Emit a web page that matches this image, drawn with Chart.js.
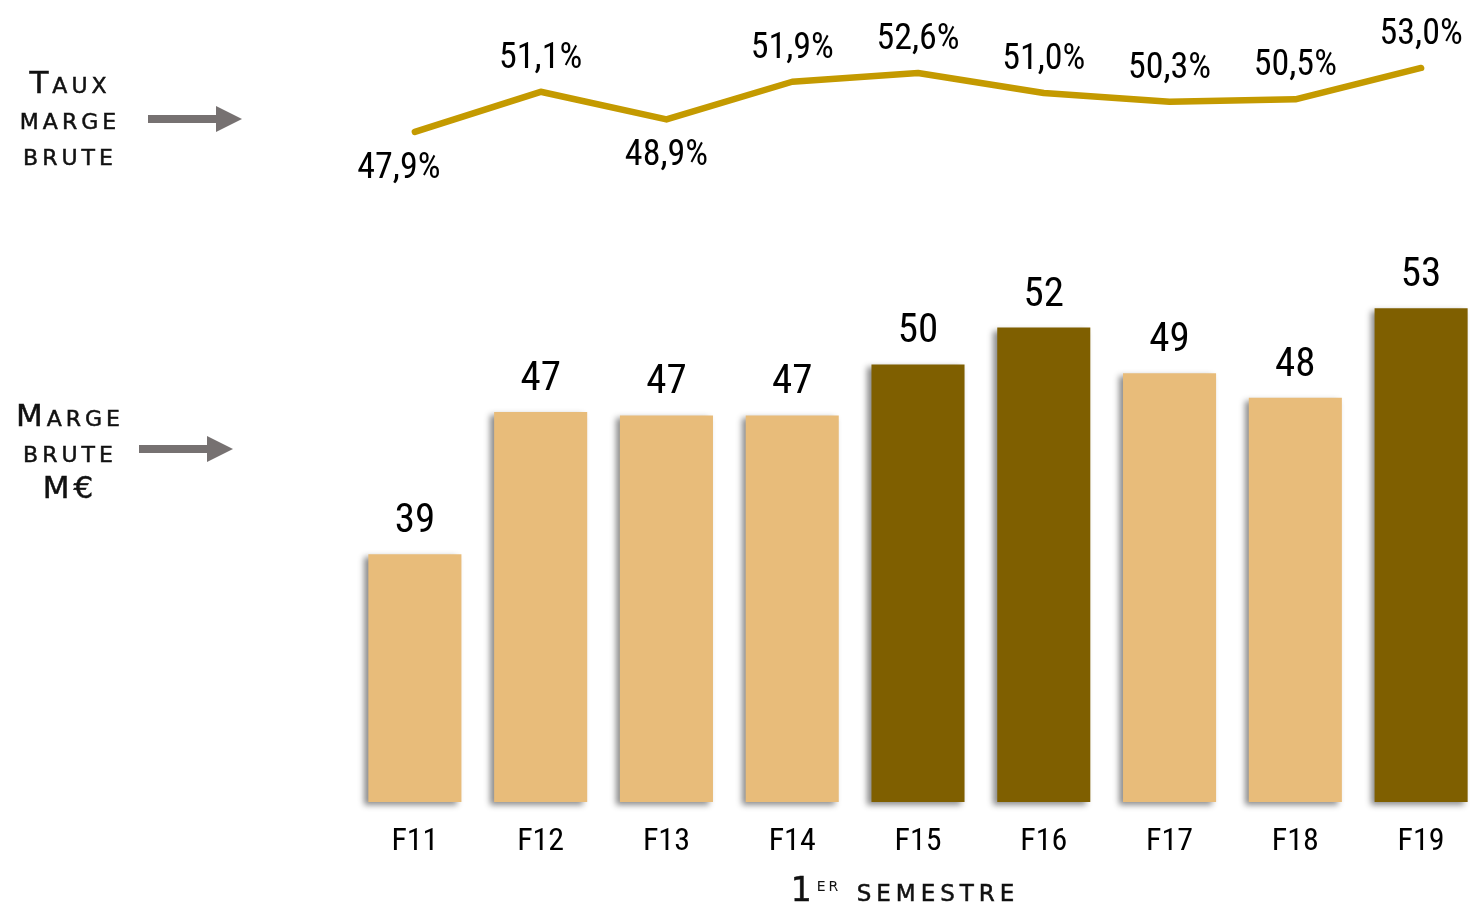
<!DOCTYPE html>
<html lang="fr">
<head>
<meta charset="utf-8">
<title>Marge brute 1er semestre</title>
<script src="https://cdn.jsdelivr.net/npm/chart.js@4.4.1/dist/chart.umd.min.js"></script>
<style>
  html, body { margin: 0; padding: 0; background: #fff; }
  body { width: 1470px; height: 909px; overflow: hidden; position: relative; }
  #wrap { position: absolute; left: 0; top: 0; width: 1490px; height: 909px; }
  .side {
    position: absolute; left: 0; width: 140px; text-align: center;
    font-family: "DejaVu Sans", sans-serif; font-variant: small-caps;
    font-size: 31px; line-height: 36px; letter-spacing: 4px; color: #111;
    -webkit-text-stroke: 0.5px #111;
  }
  .arrow { position: absolute; }
  #xtitle {
    position: absolute; left: 650px; width: 510px; top: 866px; text-align: center;
    font-family: "DejaVu Sans", sans-serif; font-variant: small-caps;
    font-size: 33px; letter-spacing: 5px; color: #111; line-height: 36px;
    -webkit-text-stroke: 0.5px #111;
  }
  #xtitle sup { font-size: 20px; letter-spacing: 3px; vertical-align: 10px; -webkit-text-stroke: 0; }
</style>
</head>
<body>
<div id="wrap"><canvas id="chart"></canvas></div>

<div class="side" style="top: 64px;">Taux<br>marge<br>brute</div>
<svg class="arrow" style="left:148px; top:104px;" width="96" height="30">
  <rect x="0" y="11" width="70" height="8" fill="#767171"/>
  <polygon points="68,2 94,15 68,28" fill="#767171"/>
</svg>

<div class="side" style="top: 397px;">Marge<br>brute<br>M€</div>
<svg class="arrow" style="left:139px; top:434px;" width="96" height="30">
  <rect x="0" y="11" width="70" height="8" fill="#767171"/>
  <polygon points="68,2 94,15 68,28" fill="#767171"/>
</svg>

<div id="xtitle">1<sup>er</sup> semestre</div>

<script>
// semestres
const categories = ['F11', 'F12', 'F13', 'F14', 'F15', 'F16', 'F17', 'F18', 'F19'];
// marge brute en M€ (affichée arrondie)
const margeBrute = [39.1, 47.2, 47.0, 47.0, 49.9, 52.0, 49.4, 48.0, 53.1];
// taux de marge brute en %
const tauxMarge = [47.9, 51.1, 48.9, 51.9, 52.6, 51.0, 50.3, 50.5, 53.0];
// semestres mis en avant (barres foncées)
const highlighted = ['F15', 'F16', 'F19'];
// étiquettes de taux placées sous la courbe
const tauxLabelBelow = ['F11', 'F13'];

const NARROW = '"Liberation Sans Narrow", "Arial Narrow", "Roboto Condensed", "Liberation Sans", sans-serif';
const LIGHT = '#E8BC7A';
const DARK = '#7F5F00';
const GOLD = '#C49A00';
const BASE = 25; // bas visible de l'axe des barres

const fmtPct = v => v.toFixed(1).replace('.', ',') + '%';

// ombre portée sous les barres
const barShadow = {
  id: 'barShadow',
  beforeDatasetDraw(chart, args) {
    if (args.index !== 0) return;
    const c = chart.ctx;
    c.save();
    c.shadowColor = 'rgba(0, 0, 0, 0.45)';
    c.shadowBlur = 6;
    c.shadowOffsetX = -4;
    c.shadowOffsetY = 3;
  },
  afterDatasetDraw(chart, args) {
    if (args.index === 0) chart.ctx.restore();
  }
};

// valeurs au-dessus des barres et de la courbe
const valueLabels = {
  id: 'valueLabels',
  afterDatasetsDraw(chart) {
    const c = chart.ctx;
    c.save();
    c.fillStyle = '#000';
    c.textAlign = 'center';
    c.textBaseline = 'alphabetic';

    c.font = '41px ' + NARROW;
    chart.getDatasetMeta(0).data.forEach((bar, i) => {
      c.fillText(String(Math.round(margeBrute[i])), bar.x, bar.y - 22);
    });

    c.font = '36px ' + NARROW;
    chart.getDatasetMeta(1).data.forEach((pt, i) => {
      const below = tauxLabelBelow.includes(categories[i]);
      const dx = i === 0 ? -16 : 0;
      c.fillText(fmtPct(tauxMarge[i]), pt.x + dx, below ? pt.y + 46 : pt.y - 24);
    });
    c.restore();
  }
};

new Chart(document.getElementById('chart'), {
  data: {
    labels: categories,
    datasets: [
      {
        type: 'bar',
        label: 'Marge brute M€',
        data: margeBrute,
        yAxisID: 'y',
        base: BASE,
        backgroundColor: categories.map(c => highlighted.includes(c) ? DARK : LIGHT),
        borderWidth: 0,
        categoryPercentage: 1,
        barPercentage: 0.74,
        clip: false,
        order: 2
      },
      {
        type: 'line',
        label: 'Taux marge brute',
        data: tauxMarge,
        yAxisID: 'y2',
        borderColor: GOLD,
        borderWidth: 6.5,
        borderCapStyle: 'round',
        borderJoinStyle: 'round',
        pointRadius: 0,
        tension: 0,
        fill: false,
        clip: false,
        order: 1
      }
    ]
  },
  options: {
    responsive: true,
    maintainAspectRatio: false,
    animation: false,
    layout: { padding: { left: 352, right: 6, top: 20, bottom: 0 } },
    plugins: {
      legend: { display: false },
      tooltip: { enabled: false }
    },
    scales: {
      x: {
        offset: true,
        grid: { display: false, drawTicks: false },
        border: { display: false },
        ticks: { color: '#000', font: { family: NARROW, size: 32 }, padding: 21 },
        afterFit(scale) { scale.height = 107; }
      },
      y: {
        display: false,
        min: BASE,
        max: 69.5
      },
      y2: {
        display: false,
        min: -5.49,
        max: 56.82
      }
    }
  },
  plugins: [barShadow, valueLabels]
});
</script>
</body>
</html>
